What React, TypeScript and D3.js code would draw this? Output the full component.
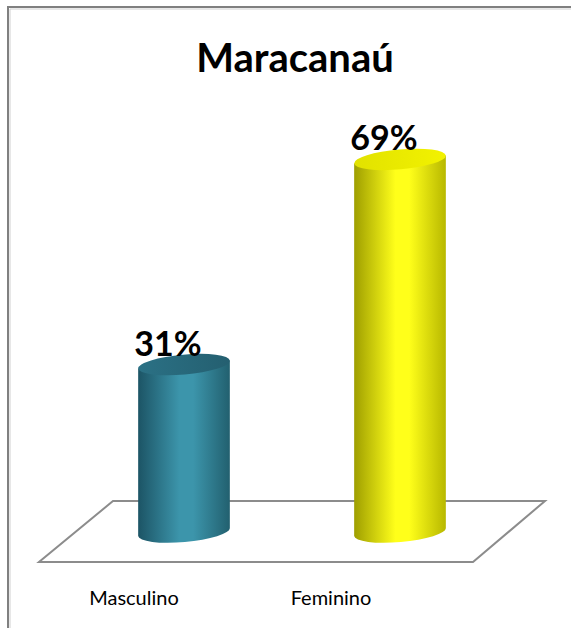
import React from 'react';
import * as d3 from 'd3';

const categories = ['Masculino', 'Feminino'];
const shares = [0.31, 0.69];
const chartTitle = 'Maracanaú';

const W = 571;
const H = 628;

const palette = [
    { edge: '#1c5465', mid: '#3c95ab', edge2: '#22606f', top: '#2b7185', top2: '#245f70' },
    { edge: '#9e9e00', mid: '#ffff1a', edge2: '#b8b800', top: '#e2e200', top2: '#f2f200' },
];

const App: React.FC = () => {
    // band scale across the middle depth of the floor
    const x = d3.scaleBand<string>().domain(categories).range([76, 508]).paddingInner(0.574).paddingOuter(0.287);
    const y = d3.scaleLinear().domain([0, 0.7]).range([532, 154]);
    // labels sit in front of the floor
    const lx = d3.scalePoint<string>().domain(categories).range([134, 331]);
    const fmt = d3.format('.0%');

    const rx = x.bandwidth() / 2;
    const ry = 10;
    const tilt = -5;
    const c = Math.cos((tilt * Math.PI) / 180);
    const s = Math.sin((tilt * Math.PI) / 180);

    // floor parallelogram
    const floorBack = 501, floorFront = 562;
    const floor = d3.path();
    floor.moveTo(113, floorBack);
    floor.lineTo(545, floorBack);
    floor.lineTo(473, floorFront);
    floor.lineTo(39, floorFront);
    floor.closePath();

    return (
        <svg width={W} height={H} style={{ position: 'absolute', left: 0, top: 0, background: '#fff' }}>
            <defs>
                {palette.map((p, i) => (
                    <React.Fragment key={i}>
                        <linearGradient id={`body${i}`} x1="0" x2="1" y1="0" y2="0">
                            <stop offset="0" stopColor={p.edge} />
                            <stop offset="0.45" stopColor={p.mid} />
                            <stop offset="0.6" stopColor={p.mid} />
                            <stop offset="1" stopColor={p.edge2} />
                        </linearGradient>
                        <linearGradient id={`top${i}`} x1="0" x2="1" y1="0" y2="0">
                            <stop offset="0" stopColor={p.top} />
                            <stop offset="1" stopColor={p.top2} />
                        </linearGradient>
                    </React.Fragment>
                ))}
            </defs>
            <rect x={8} y={7} width={W + 10} height={H + 10} fill="#fff" stroke="#808080" strokeWidth={2} />
            <line x1={10} x2={W} y1={9} y2={9} stroke="#d0d0d0" />
            <line x1={10} x2={10} y1={9} y2={H} stroke="#d0d0d0" />

            <text x={295} y={72} textAnchor="middle" fontFamily="Lato, 'Open Sans', sans-serif" fontWeight="bold" fontSize={40} fill="#000">
                {chartTitle}
            </text>

            <path d={floor.toString()} fill="#fff" stroke="#8c8c8c" strokeWidth={2} />

            {categories.map((cat, i) => {
                const cx = (x(cat) ?? 0) + rx;
                const topY = y(shares[i]);
                const botY = y(0);
                const body = `M${cx - rx * c},${topY - rx * s} L${cx - rx * c},${botY - rx * s} A${rx},${ry} ${tilt} 0 0 ${cx + rx * c},${botY + rx * s} L${cx + rx * c},${topY + rx * s} Z`;
                return (
                    <g key={cat}>
                        <path d={body} fill={`url(#body${i})`} />
                        <ellipse cx={cx} cy={topY} rx={rx} ry={ry} transform={`rotate(${tilt},${cx},${topY})`} fill={`url(#top${i})`} />
                        <text x={cx - 16} y={topY - ry + 1} textAnchor="middle" fontFamily="Lato, 'Open Sans', sans-serif" fontWeight="bold" fontSize={34} fill="#000">
                            {fmt(shares[i])}
                        </text>
                        <text x={lx(cat)} y={605} textAnchor="middle" fontFamily="Lato, 'Open Sans', sans-serif" fontSize={20} fill="#000">
                            {cat}
                        </text>
                    </g>
                );
            })}
        </svg>
    );
};

export default App;
